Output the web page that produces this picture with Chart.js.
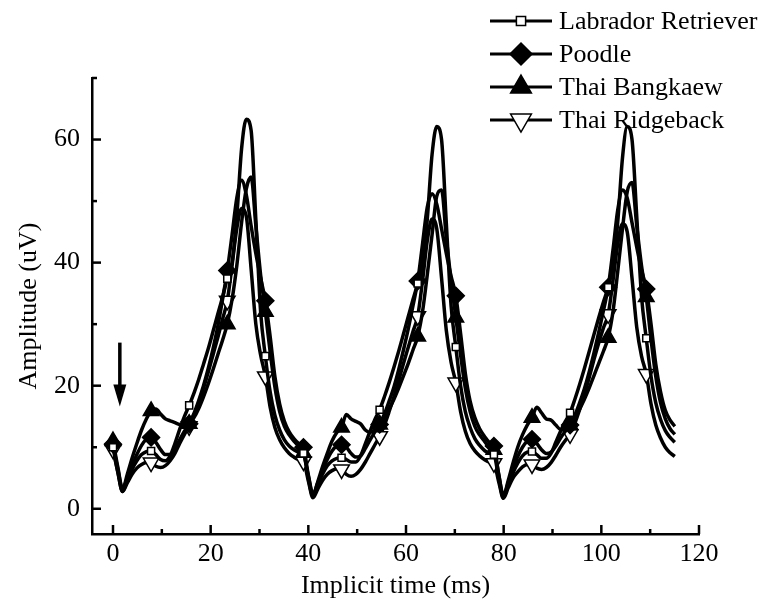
<!DOCTYPE html>
<html><head><meta charset="utf-8">
<script src="https://cdn.jsdelivr.net/npm/chart.js@4.4.1/dist/chart.umd.min.js"></script>
<style>html,body{margin:0;padding:0;background:#fff;}canvas{display:block;}</style>
</head><body>
<canvas id="c" width="761" height="608"></canvas>
<script>
// ---------- DATA ----------
const time = [
 0, 0.98, 1.95, 2.93, 3.9, 4.88, 5.85, 6.83,
 7.8, 8.78, 9.75, 10.73, 11.7, 12.68, 13.65, 14.63,
 15.6, 16.58, 17.55, 18.53, 19.5, 20.48, 21.45, 22.43,
 23.4, 24.38, 25.35, 26.33, 27.3, 28.28, 29.25, 30.23,
 31.2, 32.18, 33.15, 34.13, 35.1, 36.08, 37.05, 38.03,
 39, 39.98, 40.95, 41.93, 42.9, 43.88, 44.85, 45.83,
 46.8, 47.78, 48.75, 49.73, 50.7, 51.68, 52.65, 53.63,
 54.6, 55.58, 56.55, 57.53, 58.5, 59.48, 60.45, 61.43,
 62.4, 63.38, 64.35, 65.33, 66.3, 67.28, 68.25, 69.23,
 70.2, 71.18, 72.15, 73.13, 74.1, 75.08, 76.05, 77.03,
 78, 78.98, 79.95, 80.93, 81.9, 82.88, 83.85, 84.83,
 85.8, 86.78, 87.75, 88.73, 89.7, 90.68, 91.65, 92.63,
 93.6, 94.58, 95.55, 96.53, 97.5, 98.48, 99.45, 100.43,
 101.4, 102.38, 103.35, 104.33, 105.3, 106.28, 107.25, 108.23,
 109.2, 110.18, 111.15, 112.13, 113.1, 114.08, 115.05
];
const labrador = [
 10.0, 6.0, 2.8, 4.6, 6.4, 7.8, 8.8, 9.3,
 9.4, 8.8, 8.0, 7.8, 8.6, 10.6, 12.9, 15.0,
 16.8, 18.8, 21.0, 23.5, 26.0, 28.8, 31.6, 34.4,
 37.4, 40.0, 47.5, 58.5, 63.3, 61.5, 47.0, 32.0,
 24.8, 19.0, 15.2, 12.8, 11.2, 10.2, 9.6, 9.2,
 9.0, 5.0, 2.0, 3.8, 5.6, 7.0, 7.8, 8.2,
 8.3, 8.0, 7.6, 7.6, 8.6, 10.6, 12.6, 14.5,
 16.1, 18.2, 20.5, 23.0, 25.6, 28.4, 31.2, 34.0,
 36.6, 39.5, 47.0, 57.5, 62.1, 60.0, 46.5, 33.0,
 26.3, 20.0, 15.8, 13.2, 11.4, 10.3, 9.5, 9.0,
 8.8, 5.0, 1.8, 3.8, 5.8, 7.4, 8.6, 9.2,
 9.3, 8.8, 8.2, 8.2, 9.0, 10.8, 12.6, 14.2,
 15.6, 17.8, 20.2, 22.8, 25.5, 28.3, 31.0, 33.6,
 36.0, 39.5, 46.5, 57.0, 62.1, 60.0, 47.5, 34.5,
 27.7, 21.5, 17.2, 14.5, 12.7, 11.6, 10.8
];
const poodle = [
 10.5, 6.5, 3.2, 5.0, 7.0, 8.8, 10.3, 11.3,
 11.6, 10.8, 9.6, 8.8, 8.8, 9.8, 11.2, 12.6,
 13.8, 15.5, 17.6, 20.0, 22.8, 26.0, 29.6, 34.0,
 38.7, 44.5, 50.5, 53.4, 51.0, 46.0, 41.5, 37.5,
 33.8, 28.0, 21.5, 17.0, 14.2, 12.5, 11.4, 10.6,
 10.0, 5.6, 2.4, 4.2, 6.2, 8.0, 9.4, 10.2,
 10.4, 10.0, 9.0, 8.4, 8.6, 9.8, 11.2, 12.5,
 13.7, 15.4, 17.5, 19.8, 22.6, 25.8, 29.2, 33.0,
 37.0, 43.0, 49.0, 51.2, 49.5, 45.5, 41.5, 37.8,
 34.6, 28.5, 22.0, 17.5, 14.8, 13.0, 11.8, 10.8,
 10.2, 5.6, 2.2, 4.2, 6.4, 8.5, 10.0, 11.0,
 11.3, 10.6, 9.6, 9.0, 9.2, 10.2, 11.5, 12.6,
 13.6, 15.2, 17.2, 19.5, 22.2, 25.3, 28.6, 32.2,
 36.0, 42.0, 48.5, 51.8, 50.5, 46.5, 42.5, 38.8,
 35.7, 30.0, 23.5, 19.0, 16.0, 14.4, 13.4
];
const bangkaew = [
 11.0, 6.8, 3.2, 5.6, 8.2, 10.6, 12.8, 14.6,
 15.9, 16.2, 15.4, 14.6, 14.3, 14.0, 13.7, 13.6,
 13.8, 14.8, 16.3, 18.2, 20.3, 22.6, 25.0, 27.4,
 30.0, 34.0, 39.5, 46.5, 52.0, 53.9, 46.0, 38.0,
 32.0, 25.5, 19.8, 15.8, 13.4, 12.0, 11.0, 10.2,
 9.1, 5.4, 2.2, 4.4, 6.8, 9.0, 11.0, 12.4,
 13.2, 15.3, 14.6, 14.2, 13.8, 12.8, 12.4, 12.8,
 13.7, 14.8, 16.2, 17.8, 19.6, 21.6, 23.6, 25.8,
 28.0, 32.0, 38.0, 44.5, 50.8, 51.8, 44.0, 37.0,
 31.1, 25.0, 19.6, 15.8, 13.4, 12.0, 11.0, 10.0,
 9.6, 5.6, 2.0, 4.6, 7.4, 10.0, 12.0, 13.6,
 14.8, 16.5, 15.6, 14.6, 14.4, 13.6, 12.9, 13.0,
 13.6, 14.8, 16.2, 17.8, 19.6, 21.6, 23.6, 25.6,
 27.8, 32.0, 38.5, 45.5, 51.5, 53.0, 46.0, 39.5,
 34.4, 27.5, 21.5, 17.2, 14.6, 13.0, 12.1
];
const ridgeback = [
 9.6, 6.0, 2.8, 4.2, 5.6, 6.6, 7.2, 7.5,
 7.5, 6.9, 6.7, 7.0, 7.8, 9.0, 10.6, 12.1,
 13.4, 15.2, 17.2, 19.6, 22.2, 25.0, 27.8, 30.8,
 33.8, 39.5, 45.5, 48.8, 47.5, 39.0, 30.0, 25.0,
 21.5, 16.5, 13.2, 11.2, 9.9, 9.0, 8.4, 8.0,
 7.7, 4.6, 1.8, 3.2, 4.6, 5.6, 6.2, 6.5,
 6.4, 5.6, 5.3, 5.6, 6.4, 7.6, 9.0, 10.4,
 11.8, 13.6, 15.8, 18.2, 20.8, 23.6, 26.2, 28.8,
 31.3, 37.0, 43.5, 47.1, 45.5, 37.5, 29.0, 23.8,
 20.5, 15.8, 12.6, 10.6, 9.4, 8.6, 8.0, 7.6,
 7.4, 4.4, 1.7, 3.4, 5.0, 6.0, 6.8, 7.2,
 7.2, 6.6, 6.4, 6.7, 7.5, 8.7, 10.0, 11.1,
 12.1, 13.9, 16.1, 18.6, 21.3, 24.2, 26.9, 29.4,
 31.6, 37.0, 43.0, 46.3, 45.0, 37.5, 29.5, 24.8,
 21.9, 17.0, 13.6, 11.5, 10.0, 9.1, 8.5
];
const seriesNames = ['Labrador Retriever', 'Poodle', 'Thai Bangkaew', 'Thai Ridgeback'];
const xTicks = [0, 20, 40, 60, 80, 100, 120];
const xMinorTicks = [10, 30, 50, 70, 90, 110];
const yTicks = [0, 20, 40, 60];
const yMinorTicks = [10, 30, 50, 70];

// ---------- STYLE ----------
const FONT = "'Liberation Serif', 'Times New Roman', Times, serif";
const FS = 26;
const MARK_EVERY = 8;
const markers = [
  {style: 'rect', fill: '#ffffff', r: 5, lr: 6.5, rot: 0},
  {style: 'rectRot', fill: '#000000', r: 8.5, lr: 11, rot: 0},
  {style: 'triangle', fill: '#000000', r: 9, lr: 12, rot: 0},
  {style: 'triangle', fill: '#ffffff', r: 9, lr: 12, rot: 180}
];
const arrowSpec = {x: 1.4, yStart: 27, yEnd: 16.6};

const series = [labrador, poodle, bangkaew, ridgeback];
const datasets = series.map((vals, i) => ({
  label: seriesNames[i],
  data: vals.map((v, k) => ({x: time[k], y: v})),
  borderColor: '#000',
  borderWidth: 3.5,
  fill: false,
  cubicInterpolationMode: 'monotone',
  pointStyle: markers[i].style,
  pointRotation: markers[i].rot,
  pointBackgroundColor: markers[i].fill,
  pointBorderColor: '#000',
  pointBorderWidth: 1.5,
  pointRadius: ctx => (ctx.dataIndex % MARK_EVERY === 0 ? markers[i].r : 0),
  pointHoverRadius: 0
}));

function drawMarker(ctx, m, x, y, r) {
  ctx.save();
  ctx.fillStyle = m.fill;
  ctx.strokeStyle = '#000';
  ctx.lineWidth = 1.5;
  Chart.helpers.drawPoint(ctx, {pointStyle: m.style, radius: r, rotation: m.rot, borderWidth: 1.5}, x, y);
  ctx.restore();
}

const extrasPlugin = {
  id: 'extras',
  afterDraw(chart) {
    const ctx = chart.ctx;
    const xs = chart.scales.x, ys = chart.scales.y;
    const area = chart.chartArea;
    ctx.save();
    ctx.strokeStyle = '#000';
    ctx.lineWidth = 2.5;
    ctx.lineCap = 'butt';
    const seg = (x1, y1, x2, y2) => { ctx.beginPath(); ctx.moveTo(x1, y1); ctx.lineTo(x2, y2); ctx.stroke(); };
    // inward ticks
    xTicks.forEach(v => { const p = xs.getPixelForValue(v); seg(p, area.bottom, p, area.bottom - 9); });
    xMinorTicks.forEach(v => { const p = xs.getPixelForValue(v); seg(p, area.bottom, p, area.bottom - 5); });
    yTicks.forEach(v => { const p = ys.getPixelForValue(v); seg(area.left, p, area.left + 9, p); });
    yMinorTicks.forEach(v => { const p = ys.getPixelForValue(v); seg(area.left, p, area.left + 5, p); });

    // arrow annotation
    const ax = xs.getPixelForValue(arrowSpec.x);
    const ay1 = ys.getPixelForValue(arrowSpec.yStart);
    const ay2 = ys.getPixelForValue(arrowSpec.yEnd);
    ctx.lineWidth = 3.5;
    seg(ax, ay1, ax, ay2 - 18);
    ctx.fillStyle = '#000';
    ctx.beginPath();
    ctx.moveTo(ax - 6.5, ay2 - 22);
    ctx.lineTo(ax + 6.5, ay2 - 22);
    ctx.lineTo(ax, ay2);
    ctx.closePath();
    ctx.fill();

    // legend
    const rows = [21, 54, 87, 120];
    ctx.font = FS + 'px ' + FONT;
    ctx.textBaseline = 'middle';
    ctx.textAlign = 'left';
    rows.forEach((ry, i) => {
      ctx.lineWidth = 3;
      ctx.strokeStyle = '#000';
      seg(490, ry, 552, ry);
      drawMarker(ctx, markers[i], 521, ry, markers[i].lr);
      ctx.fillStyle = '#000';
      ctx.fillText(seriesNames[i], 559, ry + 1);
    });
    ctx.restore();
  }
};

new Chart(document.getElementById('c'), {
  type: 'line',
  data: {datasets},
  plugins: [extrasPlugin],
  options: {
    responsive: false,
    animation: false,
    events: [],
    devicePixelRatio: 1,
    layout: {padding: {top: 78, right: 62, left: 0, bottom: 0}},
    plugins: {legend: {display: false}, tooltip: {enabled: false}},
    scales: {
      x: {
        type: 'linear',
        min: -4.3,
        max: 120,
        afterFit: s => { s.height = 74; },
        afterBuildTicks: s => { s.ticks = xTicks.map(v => ({value: v})); },
        grid: {display: false, drawTicks: false},
        border: {display: true, color: '#000', width: 2.5},
        ticks: {color: '#000', font: {family: FONT, size: FS}, padding: 5, maxRotation: 0, autoSkip: false,
                callback: v => String(v)},
        title: {display: true, text: 'Implicit time (ms)', color: '#000', font: {family: FONT, size: FS},
                padding: {top: 0, bottom: 6}}
      },
      y: {
        type: 'linear',
        min: -4.1,
        max: 70,
        afterFit: s => { s.width = 92; },
        afterBuildTicks: s => { s.ticks = yTicks.map(v => ({value: v})); },
        grid: {display: false, drawTicks: false},
        border: {display: true, color: '#000', width: 2.5},
        ticks: {color: '#000', font: {family: FONT, size: FS}, padding: 12, autoSkip: false,
                callback: v => String(v)},
        title: {display: true, text: 'Amplitude (uV)', color: '#000', font: {family: FONT, size: FS},
                padding: {top: 14, bottom: 0}}
      }
    }
  }
});
</script>
</body></html>
